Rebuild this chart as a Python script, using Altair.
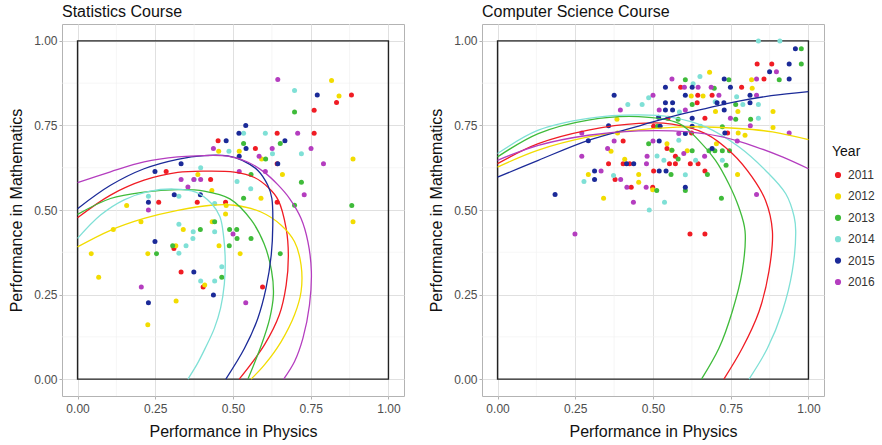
import altair as alt
import pandas as pd

YEARS = ["2011", "2012", "2013", "2014", "2015", "2016"]
COLORS = ["#f01c24", "#f2dc00", "#3fbb3a", "#7fe0d6", "#1b2a98", "#b43dbf"]
TICKS = [0, 0.25, 0.5, 0.75, 1.0]
MINOR = [0.125, 0.375, 0.625, 0.875]
BOX_X = [0.0]
BOX_X2 = [1.0]
BOX_Y = [0.0]
BOX_Y2 = [1.0]

# ---------------- Statistics course: points ----------------
STAT_PTS = {
    "2011": [(0.881,0.840),(0.833,0.818),(0.761,0.795),(0.452,0.705),(0.642,0.727),(0.761,0.727),(0.572,0.682),
             (0.285,0.614),(0.428,0.590),(0.385,0.523),(0.261,0.523),(0.476,0.523),(0.642,0.523),(0.310,0.386),
             (0.333,0.317),(0.404,0.272),(0.595,0.272),(0.642,0.637)],
    "2012": [(0.817,0.883),(0.841,0.837),(0.454,0.674),(0.520,0.674),(0.592,0.651),(0.659,0.605),(0.387,0.605),
             (0.432,0.558),(0.478,0.513),(0.476,0.488),(0.158,0.513),(0.590,0.535),(0.886,0.651),(0.886,0.465),
             (0.115,0.442),(0.204,0.465),(0.044,0.371),(0.068,0.301),(0.340,0.442),(0.433,0.465),(0.226,0.371),
             (0.316,0.394),(0.455,0.394),(0.523,0.371),(0.409,0.278),(0.317,0.231),(0.226,0.161)],
    "2013": [(0.698,0.790),(0.652,0.697),(0.534,0.697),(0.605,0.651),(0.558,0.605),(0.720,0.582),(0.698,0.514),
             (0.534,0.535),(0.882,0.513),(0.395,0.442),(0.441,0.465),(0.254,0.371),(0.306,0.394),(0.488,0.394),
             (0.489,0.442),(0.512,0.442),(0.513,0.416),(0.558,0.416),(0.652,0.371),(0.464,0.301)],
    "2014": [(0.698,0.853),(0.534,0.727),(0.604,0.727),(0.487,0.674),(0.627,0.666),(0.720,0.666),(0.396,0.625),
             (0.513,0.584),(0.557,0.563),(0.326,0.541),(0.228,0.541),(0.441,0.519),(0.326,0.458),(0.372,0.436),
             (0.371,0.416),(0.441,0.436),(0.326,0.372),(0.349,0.394),(0.396,0.290),(0.441,0.290),(0.464,0.332),
             (0.375,0.590)],
    "2015": [(0.771,0.840),(0.541,0.750),(0.519,0.727),(0.478,0.705),(0.667,0.705),(0.542,0.682),(0.520,0.659),
             (0.644,0.637),(0.333,0.637),(0.249,0.614),(0.395,0.545),(0.311,0.545),(0.228,0.523),(0.249,0.407),
             (0.374,0.317),(0.437,0.249),(0.228,0.226)],
    "2016": [(0.644,0.886),(0.708,0.727),(0.437,0.682),(0.626,0.682),(0.751,0.682),(0.584,0.659),(0.791,0.637),
             (0.520,0.614),(0.604,0.614),(0.333,0.590),(0.374,0.590),(0.396,0.590),(0.355,0.568),(0.729,0.545),
             (0.228,0.500),(0.500,0.429),(0.541,0.226),(0.205,0.272)],
}

# ---------------- Statistics course: fitted curves ----------------
STAT_CURVES = {
    "2011": [(0,0.477),(0.106,0.544),(0.214,0.588),(0.322,0.611),(0.407,0.615),(0.504,0.612),(0.569,0.596),
             (0.615,0.565),(0.645,0.53),(0.671,0.445),(0.678,0.367),(0.671,0.278),(0.649,0.190),(0.601,0.101),(0.520,0)],
    "2012": [(0,0.391),(0.106,0.440),(0.214,0.475),(0.322,0.499),(0.429,0.514),(0.504,0.514),(0.590,0.494),
             (0.655,0.455),(0.698,0.406),(0.719,0.337),(0.719,0.259),(0.698,0.190),(0.655,0.111),(0.601,0.042),(0.558,0)],
    "2013": [(0,0.487),(0.106,0.534),(0.214,0.553),(0.322,0.560),(0.407,0.556),(0.49,0.533),(0.559,0.470),
             (0.600,0.400),(0.624,0.320),(0.630,0.250),(0.618,0.179),(0.591,0.100),(0.548,0)],
    "2014": [(0,0.416),(0.074,0.485),(0.15,0.530),(0.23,0.555),(0.31,0.562),(0.38,0.553),(0.43,0.520),
             (0.458,0.480),(0.470,0.420),(0.475,0.350),(0.472,0.280),(0.460,0.210),(0.440,0.150),(0.410,0.090),
             (0.385,0.045),(0.355,0)],
    "2015": [(0,0.504),(0.106,0.573),(0.214,0.622),(0.322,0.650),(0.407,0.661),(0.483,0.660),(0.530,0.647),
             (0.580,0.617),(0.612,0.573),(0.625,0.534),(0.628,0.455),(0.623,0.367),(0.606,0.268),(0.580,0.180),
             (0.537,0.091),(0.477,0)],
    "2016": [(0,0.581),(0.106,0.613),(0.214,0.642),(0.322,0.657),(0.407,0.661),(0.483,0.659),(0.547,0.642),
             (0.600,0.612),(0.644,0.575),(0.682,0.534),(0.719,0.475),(0.741,0.406),(0.752,0.318),(0.746,0.219),
             (0.725,0.121),(0.698,0.052),(0.663,0)],
}

# ---------------- Computer Science course: points ----------------
CS_PTS = {
    "2011": [(0.835,0.932),(0.882,0.932),(0.857,0.887),(0.785,0.863),(0.589,0.863),(0.644,0.839),(0.690,0.839),
             (0.642,0.817),(0.548,0.771),(0.667,0.771),(0.502,0.748),(0.624,0.728),(0.740,0.728),(0.404,0.704),
             (0.545,0.682),(0.572,0.659),(0.357,0.637),(0.404,0.637),(0.425,0.637),(0.502,0.615),(0.553,0.637),
             (0.572,0.637),(0.620,0.637),(0.645,0.637),(0.667,0.615),(0.378,0.590),(0.430,0.567),(0.499,0.567),
             (0.619,0.429),(0.667,0.429)],
    "2012": [(0.817,0.885),(0.819,0.860),(0.682,0.907),(0.623,0.837),(0.661,0.837),(0.701,0.791),(0.773,0.791),
             (0.886,0.791),(0.886,0.744),(0.384,0.768),(0.365,0.674),(0.292,0.605),(0.341,0.535),(0.386,0.728),
             (0.409,0.650),(0.454,0.605),(0.454,0.582),(0.499,0.560),(0.545,0.696),(0.704,0.696),(0.774,0.728),
             (0.796,0.721),(0.772,0.605),(0.560,0.677),(0.610,0.675)],
    "2013": [(0.977,0.977),(0.977,0.932),(0.906,0.885),(0.744,0.885),(0.604,0.885),(0.697,0.860),(0.766,0.812),
             (0.626,0.812),(0.766,0.768),(0.814,0.768),(0.581,0.768),(0.486,0.696),(0.561,0.677),(0.581,0.651),
             (0.512,0.558),(0.558,0.605),(0.604,0.558),(0.626,0.675),(0.675,0.605),(0.680,0.675),(0.699,0.675),
             (0.723,0.675),(0.746,0.675),(0.735,0.632),(0.720,0.535),(0.723,0.746),(0.515,0.748)],
    "2014": [(0.839,1.000),(0.908,1.000),(0.651,0.895),(0.629,0.873),(0.419,0.812),(0.465,0.812),(0.486,0.832),
             (0.769,0.835),(0.789,0.812),(0.839,0.812),(0.839,0.771),(0.278,0.584),(0.373,0.602),(0.488,0.500),
             (0.537,0.523),(0.535,0.647),(0.583,0.706),(0.604,0.604),(0.637,0.647),(0.723,0.647),(0.653,0.748),
             (0.513,0.660),(0.585,0.790),(0.700,0.820)],
    "2015": [(0.958,0.977),(0.938,0.932),(0.875,0.909),(0.938,0.887),(0.749,0.863),(0.729,0.887),(0.540,0.863),
             (0.626,0.863),(0.375,0.839),(0.604,0.839),(0.812,0.839),(0.812,0.817),(0.540,0.817),(0.563,0.817),
             (0.706,0.817),(0.728,0.817),(0.540,0.796),(0.563,0.796),(0.518,0.774),(0.729,0.796),(0.357,0.749),
             (0.292,0.705),(0.312,0.590),(0.312,0.615),(0.185,0.546),(0.415,0.637),(0.438,0.637),(0.520,0.615),
             (0.542,0.615),(0.520,0.704),(0.604,0.726),(0.604,0.567),(0.690,0.682),(0.731,0.728),(0.626,0.771),
             (0.626,0.748),(0.523,0.748)],
    "2016": [(0.897,0.909),(0.833,0.887),(0.561,0.887),(0.601,0.863),(0.645,0.863),(0.687,0.863),(0.500,0.839),
             (0.712,0.839),(0.833,0.839),(0.604,0.796),(0.520,0.796),(0.395,0.796),(0.813,0.749),(0.938,0.728),
             (0.271,0.728),(0.271,0.659),(0.333,0.615),(0.354,0.682),(0.375,0.704),(0.396,0.590),(0.416,0.567),
             (0.437,0.523),(0.478,0.567),(0.481,0.659),(0.479,0.637),(0.500,0.704),(0.583,0.726),(0.599,0.667),
             (0.666,0.659),(0.771,0.704),(0.749,0.771),(0.249,0.429),(0.833,0.546)],
}

# ---------------- Computer Science course: fitted curves ----------------
CS_CURVES = {
    "2011": [(0,0.637),(0.131,0.696),(0.292,0.736),(0.454,0.756),(0.561,0.754),(0.669,0.726),(0.755,0.667),
             (0.819,0.597),(0.862,0.528),(0.884,0.438),(0.873,0.319),(0.841,0.200),(0.787,0.091),(0.728,0)],
    "2012": [(0,0.627),(0.131,0.677),(0.292,0.716),(0.454,0.737),(0.615,0.746),(0.776,0.741),(0.884,0.731),(1.0,0.708)],
    "2013": [(0,0.657),(0.131,0.726),(0.292,0.766),(0.454,0.776),(0.583,0.756),(0.647,0.706),(0.701,0.647),
             (0.744,0.577),(0.776,0.508),(0.796,0.438),(0.787,0.319),(0.755,0.200),(0.712,0.091),(0.656,0)],
    "2014": [(0,0.667),(0.131,0.736),(0.292,0.771),(0.454,0.781),(0.561,0.774),(0.669,0.746),(0.776,0.687),
             (0.862,0.617),(0.927,0.548),(0.954,0.480),(0.959,0.438),(0.948,0.319),(0.916,0.200),(0.868,0.091),(0.809,0)],
    "2015": [(0,0.597),(0.131,0.647),(0.292,0.706),(0.454,0.748),(0.551,0.774),(0.669,0.800),(0.776,0.822),
             (0.880,0.838),(1.0,0.850)],
    "2016": [(0,0.647),(0.131,0.691),(0.292,0.721),(0.454,0.734),(0.615,0.731),(0.723,0.716),(0.830,0.687),
             (0.916,0.657),(1.0,0.622)],
}

FONT = "Liberation Sans"


def points_df(pts):
    rows = []
    for yr, lst in pts.items():
        for (x, y) in lst:
            rows.append({"x": x, "y": y, "Year": yr})
    return pd.DataFrame(rows)


def curves_df(curves):
    rows = []
    for yr, lst in curves.items():
        for i, (x, y) in enumerate(lst):
            rows.append({"x": x, "y": y, "Year": yr, "i": i})
    return pd.DataFrame(rows)


xs = alt.Scale(domain=[-0.05, 1.05], nice=False, zero=False)
ys = alt.Scale(domain=[-0.05, 1.05], nice=False, zero=False)
cscale = alt.Scale(domain=YEARS, range=COLORS)


def panel(title, pts, curves):
    xaxis = alt.Axis(values=TICKS, format=".2f", title="Performance in Physics", titlePadding=9,
                     labelPadding=4)
    yaxis = alt.Axis(values=TICKS, format=".2f", title="Performance in Mathematics", titlePadding=9)
    minor_df = pd.DataFrame({"v": MINOR})
    vminor = alt.Chart(minor_df).mark_rule(color="#f0f0f0", strokeWidth=0.6).encode(
        x=alt.X("v:Q", scale=xs, axis=xaxis))
    hminor = alt.Chart(minor_df).mark_rule(color="#f0f0f0", strokeWidth=0.6).encode(
        y=alt.Y("v:Q", scale=ys, axis=yaxis))
    box = alt.Chart(pd.DataFrame({"x": BOX_X, "x2": BOX_X2, "y": BOX_Y, "y2": BOX_Y2})).mark_rect(
        fill=None, fillOpacity=0, stroke="#222222", strokeWidth=1.4).encode(
        x=alt.X("x:Q", scale=xs, axis=xaxis), x2="x2:Q",
        y=alt.Y("y:Q", scale=ys, axis=yaxis), y2="y2:Q")
    pts_c = alt.Chart(points_df(pts)).mark_circle(size=25, opacity=1).encode(
        x=alt.X("x:Q", scale=xs, axis=xaxis),
        y=alt.Y("y:Q", scale=ys, axis=yaxis),
        color=alt.Color("Year:N", scale=cscale, legend=alt.Legend(
            title="Year", orient="none", legendX=770, legendY=121, symbolType="circle",
            symbolSize=22, titleFontSize=14, titleFontWeight="normal", labelFontSize=12,
            rowPadding=9.4, titlePadding=10, labelFont=FONT, titleFont=FONT,
            labelColor="#333333", titleColor="#111111")))
    lines = alt.Chart(curves_df(curves)).mark_line(strokeWidth=1.3, interpolate="catmull-rom").encode(
        x=alt.X("x:Q", scale=xs, axis=xaxis),
        y=alt.Y("y:Q", scale=ys, axis=yaxis),
        color=alt.Color("Year:N", scale=cscale, legend=None),
        order="i:Q", detail="Year:N")
    return alt.layer(vminor, hminor, box, pts_c, lines).properties(
        width=342, height=372,
        title=alt.TitleParams(title, anchor="start", frame="group", fontSize=16, fontWeight="normal",
                              font=FONT, color="#111111", offset=4))


chart = alt.hconcat(
    panel("Statistics Course", STAT_PTS, STAT_CURVES),
    panel("Computer Science Course", CS_PTS, CS_CURVES),
    spacing=23,
).properties(
    padding={"left": 8, "top": 3, "right": 0, "bottom": 0},
    background="white"
).configure_view(
    stroke="#b3b3b3", strokeWidth=1
).configure_axis(
    domain=False, grid=True, gridColor="#e0e0e0", gridWidth=1, tickColor="#b3b3b3", tickSize=3,
    labelColor="#4d4d4d", labelFontSize=12, titleFontSize=16, titleFontWeight="normal",
    labelFont=FONT, titleFont=FONT, titleColor="#111111", labelPadding=2
)

chart.save("out.html", embed_options={"renderer": "svg", "actions": False})
